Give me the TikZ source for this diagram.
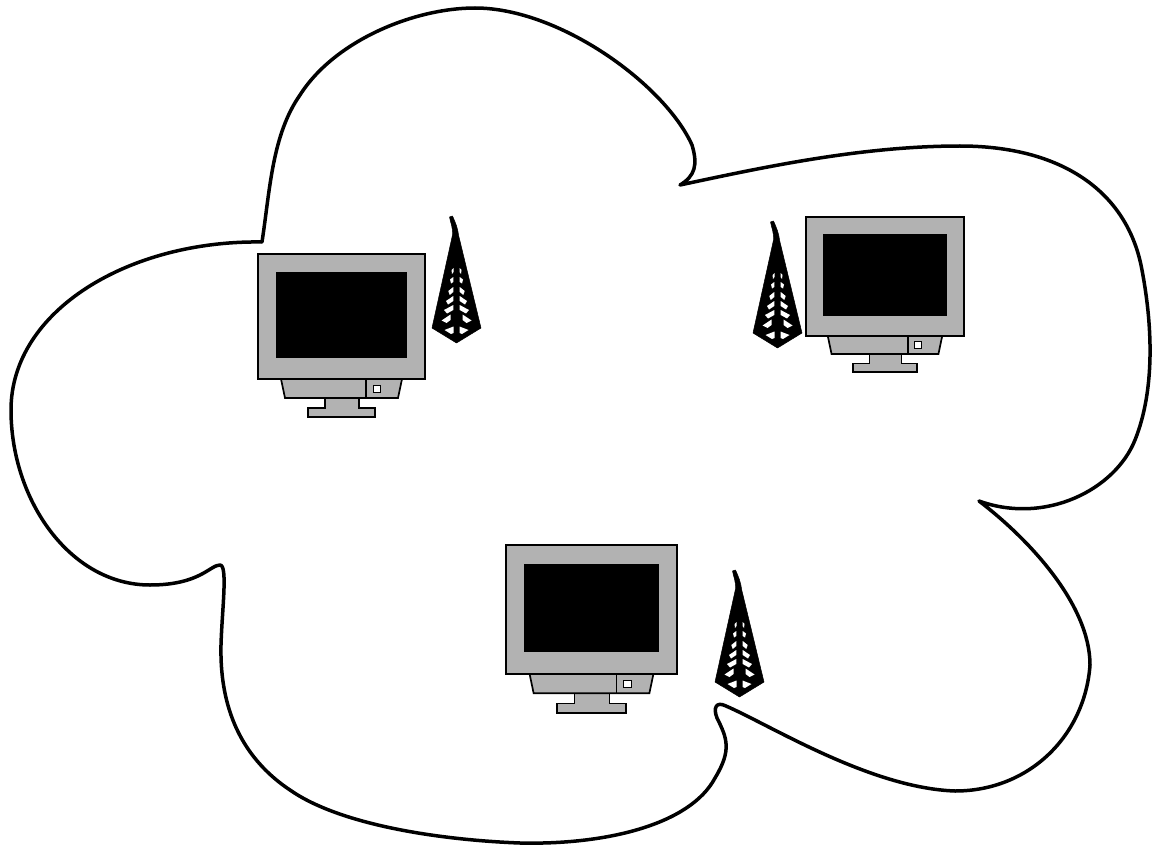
\documentclass[tikz,border=0pt]{standalone}
\definecolor{mongray}{RGB}{178,178,178}
\tikzset{
  cloudline/.style={draw=black,line width=3.5pt,line join=round,line cap=round},
  monpart/.style={draw=black,fill=mongray,line width=1.7pt,line join=miter},
  monscreen/.style={fill=black},
  monbutton/.style={draw=black,fill=white,line width=.8pt},
  towerbody/.style={fill=black,draw=black,line width=.5pt,line join=round},
  towergap/.style={fill=white}
}
% #1 x, #2 y, #3 xscale, #4 yscale (reference monitor: origin at its top-left corner)
\newcommand{\drawmonitor}[4]{%
  \begin{scope}[shift={(#1,#2)},xscale=#3,yscale=#4]
    \path[monpart] (67,144) -- (67,154) -- (50,154) -- (50,163) -- (117,163) -- (117,154) -- (101,154) -- (101,144) -- cycle;
    \path[monpart] (23,125) -- (27,144) -- (140,144) -- (144,125) -- cycle;
    \path[monpart] (108,125) -- (108,144);
    \path[monbutton] (115,131) rectangle (122,138);
    \path[monpart] (0,0) rectangle (167,125);
    \path[monscreen] (18,18) rectangle (149,104);
  \end{scope}}
% #1 x, #2 y of the tower's lowest point
\newcommand{\drawtower}[2]{%
  \begin{scope}[shift={(#1,#2)}]
    \path[towerbody] (-24.5,-15) -- (-4,-108) .. controls (-3.5,-116) and (-6,-120) .. (-7,-126) -- (-4,-127) .. controls (-1,-120) and (1,-116) .. (2,-108) -- (24.5,-15) -- (0,0) -- cycle;
    \foreach \s in {-1,1}{
      \begin{scope}[xscale=\s]
        \path[towergap] (3,-16.5) -- (3,-10) -- (5.5,-9) -- (12,-13) -- cycle;
        \path[towergap] (6,-28.5) -- (6,-23) -- (10,-20) -- (15,-22.5) -- cycle;
        \path[towergap] (3.2,-38) -- (3.2,-33) -- (9.5,-29.5) -- (12.5,-33) -- cycle;
        \path[towergap] (3.2,-47) -- (3.2,-42) -- (8.5,-38.5) -- (10.5,-42) -- cycle;
        \path[towergap] (3.2,-56) -- (3.2,-51) -- (6.8,-48) -- (8.2,-52) -- cycle;
        \path[towergap] (3.2,-66) -- (3.2,-61) -- (5.5,-59.5) -- (6.5,-63.5) -- cycle;
        \path[towergap] (3,-75) -- (3,-71) -- (4.5,-69) -- (5,-73) -- cycle;
      \end{scope}}
  \end{scope}}
\begin{document}
\begin{tikzpicture}[x=1pt,y=-1pt]
  \useasboundingbox (0,0) rectangle (1159,845);
  \path[cloudline] (262,242)
    .. controls (270,190) and (272,135) .. (300,95)
    .. controls (335,40) and (415,8) .. (475,8)
    .. controls (560,8) and (665,85) .. (692,145)
    .. controls (698,165) and (695,176) .. (680,185)
    .. controls (760,168) and (860,146) .. (960,146)
    .. controls (1060,146) and (1125,190) .. (1141,265)
    .. controls (1153,325) and (1155,390) .. (1135,440)
    .. controls (1115,490) and (1045,525) .. (979,501)
    .. controls (1030,540) and (1090,605) .. (1090,665)
    .. controls (1085,735) and (1030,791) .. (955,791)
    .. controls (870,788) and (770,725) .. (726,706)
    .. controls (716,701) and (713,708) .. (717,718)
    .. controls (727,738) and (732,750) .. (715,778)
    .. controls (690,825) and (605,845) .. (520,843)
    .. controls (440,840) and (340,825) .. (290,790)
    .. controls (230,750) and (220,690) .. (221,645)
    .. controls (222,610) and (228,565) .. (220,565)
    .. controls (210,565) and (200,585) .. (150,585)
    .. controls (70,585) and (11,500) .. (11,410)
    .. controls (11,310) and (130,240) .. (262,242) -- cycle;
  \drawmonitor{258}{254}{1}{1}
  \drawmonitor{806}{217}{0.946}{0.951}
  \drawmonitor{506}{545}{1.024}{1.03}
  \drawtower{456.5}{343}
  \drawtower{777.5}{348}
  \drawtower{739.5}{697}
\end{tikzpicture}
\end{document}
